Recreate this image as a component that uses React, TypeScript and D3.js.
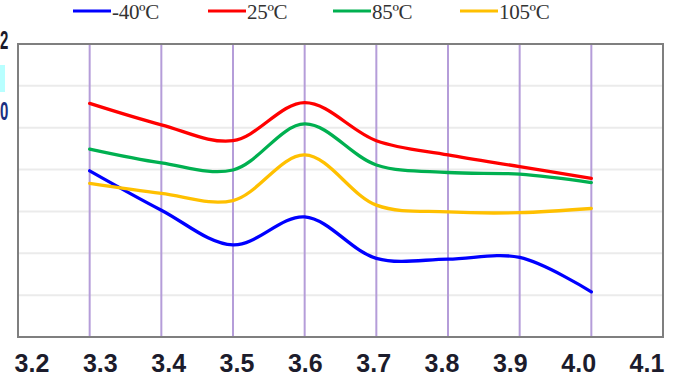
import * as d3 from "d3";

const voltages = [3.3, 3.4, 3.5, 3.6, 3.7, 3.8, 3.9, 4.0];
const xTicks = [3.2, 3.3, 3.4, 3.5, 3.6, 3.7, 3.8, 3.9, 4.0, 4.1];
const yGrid = [0.5, 0.6, 0.7, 0.8, 0.9, 1.0, 1.1, 1.2];

const seriesNames = ["-40ºC", "25ºC", "85ºC", "105ºC"];
const seriesColors = ["#0000ff", "#ff0000", "#00b050", "#ffc000"];
const minus40 = [0.897, 0.803, 0.72, 0.787, 0.688, 0.686, 0.69, 0.608];
const plus25 = [1.058, 1.007, 0.969, 1.06, 0.969, 0.935, 0.907, 0.879];
const plus85 = [0.949, 0.916, 0.899, 1.009, 0.911, 0.893, 0.889, 0.869];
const plus105 = [0.867, 0.843, 0.826, 0.935, 0.815, 0.799, 0.797, 0.807];

const width = 674;
const height = 379;
const marginLeft = 18;
const marginRight = 11;
const marginTop = 44;
const marginBottom = 42;

export default function App() {
  const x = d3
    .scaleLinear()
    .domain([3.2, 4.1])
    .range([marginLeft, width - marginRight]);
  // tick labels in the source sit on a slightly tighter spacing than the grid
  const xLabel = d3.scaleLinear().domain([3.2, 4.1]).range([32, 647]);
  const y = d3
    .scaleLinear()
    .domain([0.5, 1.2])
    .range([height - marginBottom, marginTop]);

  const line = d3
    .line<number>()
    .x((_, i) => x(voltages[i]))
    .y((d) => y(d))
    .curve(d3.curveCatmullRom.alpha(0.5));

  const series = [minus40, plus25, plus85, plus105];
  const legendX = [73, 208, 333, 460];

  return (
    <svg
      width={width}
      height={height}
      viewBox={`0 0 ${width} ${height}`}
      style={{ position: "absolute", left: 0, top: 0, background: "#fff" }}
    >
      {/* horizontal grid */}
      <g stroke="#ebebeb" strokeWidth={2}>
        {yGrid.map((v) => (
          <line key={v} x1={x(3.2)} x2={x(4.1)} y1={y(v)} y2={y(v)} />
        ))}
      </g>
      {/* vertical grid */}
      <g stroke="#b59dd9" strokeWidth={2}>
        {voltages.map((v) => (
          <line key={v} x1={x(v)} x2={x(v)} y1={y(1.2)} y2={y(0.5)} />
        ))}
      </g>
      <rect
        x={x(3.2)}
        y={y(1.2)}
        width={x(4.1) - x(3.2)}
        height={y(0.5) - y(1.2)}
        fill="none"
        stroke="#7f7f7f"
        strokeWidth={2}
      />

      <g fill="none" strokeWidth={3.3} strokeLinecap="round">
        {series.map((s, i) => (
          <path key={seriesNames[i]} d={line(s) ?? ""} stroke={seriesColors[i]} />
        ))}
      </g>

      {/* legend */}
      <g fontFamily="'Liberation Serif', serif" fontSize={21} fill="#333">
        {seriesNames.map((name, i) => (
          <g key={name} transform={`translate(${legendX[i]},0)`}>
            <line x1={0} x2={38} y1={11} y2={11} stroke={seriesColors[i]} strokeWidth={3} />
            <text x={39} y={19} letterSpacing={-0.3}>
              {name}
            </text>
          </g>
        ))}
      </g>

      {/* x tick labels */}
      <g
        fontFamily="'Liberation Sans', Arial, sans-serif"
        fontWeight="bold"
        fontSize={25}
        fill="#1c1c2c"
        textAnchor="middle"
      >
        {xTicks.map((t) => (
          <text key={t} x={xLabel(t)} y={372}>
            {t.toFixed(1)}
          </text>
        ))}
      </g>

      {/* y labels: only their right edges show in the source crop */}
      <rect x={0} y={65} width={5} height={27} fill="#b8ffff" />
      <g
        fontFamily="'Liberation Sans', Arial, sans-serif"
        fontWeight="bold"
        fontSize={25}
      >
        <text x={0} y={49} fill="#1c1c2c" transform="translate(0,0) scale(0.6,1)">
          2
        </text>
        <text x={0} y={120} fill="#1a2f80" transform="scale(0.6,1)">
          0
        </text>
      </g>
    </svg>
  );
}
